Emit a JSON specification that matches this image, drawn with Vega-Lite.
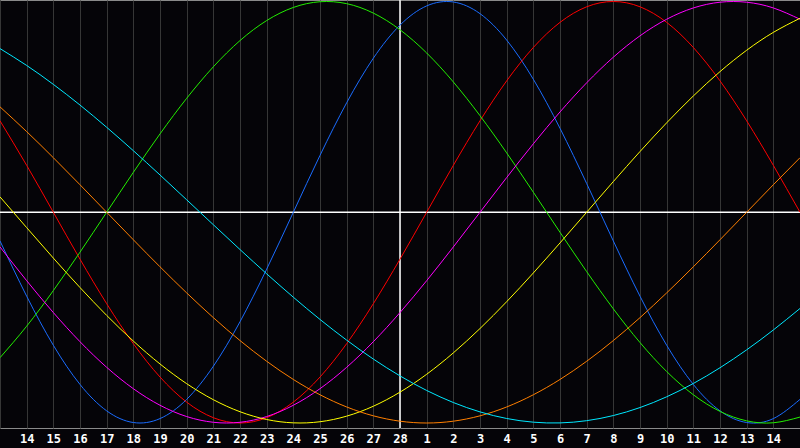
{
  "$schema": "https://vega.github.io/schema/vega-lite/v6.json",
  "width": 800,
  "height": 428,
  "autosize": "none",
  "padding": {"left": 0, "top": 0, "right": 0, "bottom": 20},
  "background": "#050408",
  "config": {
    "view": {"stroke": "#8a8a8a", "fill": "#050408"},
    "axisX": {"labelOverlap": false, "labelBound": false}
  },
  "datasets": {
    "cycles": [
      {"s": "Physical", "d": 0, "v": -0.1362}, {"s": "Physical", "d": 1, "v": -0.3984}, {"s": "Physical", "d": 2, "v": -0.6311}, {"s": "Physical", "d": 3, "v": -0.817}, {"s": "Physical", "d": 4, "v": -0.9423}, {"s": "Physical", "d": 5, "v": -0.9977}, {"s": "Physical", "d": 6, "v": -0.9791}, {"s": "Physical", "d": 7, "v": -0.8879}, {"s": "Physical", "d": 8, "v": -0.7308}, {"s": "Physical", "d": 9, "v": -0.5196}, {"s": "Physical", "d": 10, "v": -0.2698}, {"s": "Physical", "d": 11, "v": 0}, {"s": "Physical", "d": 12, "v": 0.2698}, {"s": "Physical", "d": 13, "v": 0.5196}, {"s": "Physical", "d": 14, "v": 0.7308}, {"s": "Physical", "d": 15, "v": 0.8879}, {"s": "Physical", "d": 16, "v": 0.9791}, {"s": "Physical", "d": 17, "v": 0.9977}, {"s": "Physical", "d": 18, "v": 0.9423}, {"s": "Physical", "d": 19, "v": 0.817}, {"s": "Physical", "d": 20, "v": 0.6311}, {"s": "Physical", "d": 21, "v": 0.3984}, {"s": "Physical", "d": 22, "v": 0.1362}, {"s": "Physical", "d": 23, "v": -0.1362}, {"s": "Physical", "d": 24, "v": -0.3984}, {"s": "Physical", "d": 25, "v": -0.6311}, {"s": "Physical", "d": 26, "v": -0.817}, {"s": "Physical", "d": 27, "v": -0.9423}, {"s": "Physical", "d": 28, "v": -0.9977}, {"s": "Physical", "d": 29, "v": -0.9791}, {"s": "Physical", "d": 30, "v": -0.8879},
      {"s": "Emotional", "d": 0, "v": 0.4339}, {"s": "Emotional", "d": 1, "v": 0.2225}, {"s": "Emotional", "d": 2, "v": 0}, {"s": "Emotional", "d": 3, "v": -0.2225}, {"s": "Emotional", "d": 4, "v": -0.4339}, {"s": "Emotional", "d": 5, "v": -0.6235}, {"s": "Emotional", "d": 6, "v": -0.7818}, {"s": "Emotional", "d": 7, "v": -0.901}, {"s": "Emotional", "d": 8, "v": -0.9749}, {"s": "Emotional", "d": 9, "v": -1}, {"s": "Emotional", "d": 10, "v": -0.9749}, {"s": "Emotional", "d": 11, "v": -0.901}, {"s": "Emotional", "d": 12, "v": -0.7818}, {"s": "Emotional", "d": 13, "v": -0.6235}, {"s": "Emotional", "d": 14, "v": -0.4339}, {"s": "Emotional", "d": 15, "v": -0.2225}, {"s": "Emotional", "d": 16, "v": 0}, {"s": "Emotional", "d": 17, "v": 0.2225}, {"s": "Emotional", "d": 18, "v": 0.4339}, {"s": "Emotional", "d": 19, "v": 0.6235}, {"s": "Emotional", "d": 20, "v": 0.7818}, {"s": "Emotional", "d": 21, "v": 0.901}, {"s": "Emotional", "d": 22, "v": 0.9749}, {"s": "Emotional", "d": 23, "v": 1}, {"s": "Emotional", "d": 24, "v": 0.9749}, {"s": "Emotional", "d": 25, "v": 0.901}, {"s": "Emotional", "d": 26, "v": 0.7818}, {"s": "Emotional", "d": 27, "v": 0.6235}, {"s": "Emotional", "d": 28, "v": 0.4339}, {"s": "Emotional", "d": 29, "v": 0.2225}, {"s": "Emotional", "d": 30, "v": 0},
      {"s": "Intellectual", "d": 0, "v": -0.6901}, {"s": "Intellectual", "d": 1, "v": -0.5406}, {"s": "Intellectual", "d": 2, "v": -0.3717}, {"s": "Intellectual", "d": 3, "v": -0.1893}, {"s": "Intellectual", "d": 4, "v": 0}, {"s": "Intellectual", "d": 5, "v": 0.1893}, {"s": "Intellectual", "d": 6, "v": 0.3717}, {"s": "Intellectual", "d": 7, "v": 0.5406}, {"s": "Intellectual", "d": 8, "v": 0.6901}, {"s": "Intellectual", "d": 9, "v": 0.8146}, {"s": "Intellectual", "d": 10, "v": 0.9096}, {"s": "Intellectual", "d": 11, "v": 0.9718}, {"s": "Intellectual", "d": 12, "v": 0.9989}, {"s": "Intellectual", "d": 13, "v": 0.9898}, {"s": "Intellectual", "d": 14, "v": 0.945}, {"s": "Intellectual", "d": 15, "v": 0.866}, {"s": "Intellectual", "d": 16, "v": 0.7557}, {"s": "Intellectual", "d": 17, "v": 0.6182}, {"s": "Intellectual", "d": 18, "v": 0.4582}, {"s": "Intellectual", "d": 19, "v": 0.2817}, {"s": "Intellectual", "d": 20, "v": 0.0951}, {"s": "Intellectual", "d": 21, "v": -0.0951}, {"s": "Intellectual", "d": 22, "v": -0.2817}, {"s": "Intellectual", "d": 23, "v": -0.4582}, {"s": "Intellectual", "d": 24, "v": -0.6182}, {"s": "Intellectual", "d": 25, "v": -0.7557}, {"s": "Intellectual", "d": 26, "v": -0.866}, {"s": "Intellectual", "d": 27, "v": -0.945}, {"s": "Intellectual", "d": 28, "v": -0.9898}, {"s": "Intellectual", "d": 29, "v": -0.9989}, {"s": "Intellectual", "d": 30, "v": -0.9718},
      {"s": "Intuitive", "d": 0, "v": -0.1646}, {"s": "Intuitive", "d": 1, "v": -0.3247}, {"s": "Intuitive", "d": 2, "v": -0.4759}, {"s": "Intuitive", "d": 3, "v": -0.6142}, {"s": "Intuitive", "d": 4, "v": -0.7357}, {"s": "Intuitive", "d": 5, "v": -0.8372}, {"s": "Intuitive", "d": 6, "v": -0.9158}, {"s": "Intuitive", "d": 7, "v": -0.9694}, {"s": "Intuitive", "d": 8, "v": -0.9966}, {"s": "Intuitive", "d": 9, "v": -0.9966}, {"s": "Intuitive", "d": 10, "v": -0.9694}, {"s": "Intuitive", "d": 11, "v": -0.9158}, {"s": "Intuitive", "d": 12, "v": -0.8372}, {"s": "Intuitive", "d": 13, "v": -0.7357}, {"s": "Intuitive", "d": 14, "v": -0.6142}, {"s": "Intuitive", "d": 15, "v": -0.4759}, {"s": "Intuitive", "d": 16, "v": -0.3247}, {"s": "Intuitive", "d": 17, "v": -0.1646}, {"s": "Intuitive", "d": 18, "v": 0}, {"s": "Intuitive", "d": 19, "v": 0.1646}, {"s": "Intuitive", "d": 20, "v": 0.3247}, {"s": "Intuitive", "d": 21, "v": 0.4759}, {"s": "Intuitive", "d": 22, "v": 0.6142}, {"s": "Intuitive", "d": 23, "v": 0.7357}, {"s": "Intuitive", "d": 24, "v": 0.8372}, {"s": "Intuitive", "d": 25, "v": 0.9158}, {"s": "Intuitive", "d": 26, "v": 0.9694}, {"s": "Intuitive", "d": 27, "v": 0.9966}, {"s": "Intuitive", "d": 28, "v": 0.9966}, {"s": "Intuitive", "d": 29, "v": 0.9694}, {"s": "Intuitive", "d": 30, "v": 0.9158},
      {"s": "Aesthetic", "d": 0, "v": 0.073}, {"s": "Aesthetic", "d": 1, "v": -0.073}, {"s": "Aesthetic", "d": 2, "v": -0.2174}, {"s": "Aesthetic", "d": 3, "v": -0.3572}, {"s": "Aesthetic", "d": 4, "v": -0.4894}, {"s": "Aesthetic", "d": 5, "v": -0.6111}, {"s": "Aesthetic", "d": 6, "v": -0.7199}, {"s": "Aesthetic", "d": 7, "v": -0.8133}, {"s": "Aesthetic", "d": 8, "v": -0.8894}, {"s": "Aesthetic", "d": 9, "v": -0.9465}, {"s": "Aesthetic", "d": 10, "v": -0.9834}, {"s": "Aesthetic", "d": 11, "v": -0.9993}, {"s": "Aesthetic", "d": 12, "v": -0.994}, {"s": "Aesthetic", "d": 13, "v": -0.9675}, {"s": "Aesthetic", "d": 14, "v": -0.9204}, {"s": "Aesthetic", "d": 15, "v": -0.8535}, {"s": "Aesthetic", "d": 16, "v": -0.7687}, {"s": "Aesthetic", "d": 17, "v": -0.6673}, {"s": "Aesthetic", "d": 18, "v": -0.5517}, {"s": "Aesthetic", "d": 19, "v": -0.4244}, {"s": "Aesthetic", "d": 20, "v": -0.2881}, {"s": "Aesthetic", "d": 21, "v": -0.1456}, {"s": "Aesthetic", "d": 22, "v": 0}, {"s": "Aesthetic", "d": 23, "v": 0.1456}, {"s": "Aesthetic", "d": 24, "v": 0.2881}, {"s": "Aesthetic", "d": 25, "v": 0.4244}, {"s": "Aesthetic", "d": 26, "v": 0.5517}, {"s": "Aesthetic", "d": 27, "v": 0.6673}, {"s": "Aesthetic", "d": 28, "v": 0.7687}, {"s": "Aesthetic", "d": 29, "v": 0.8535}, {"s": "Aesthetic", "d": 30, "v": 0.9204},
      {"s": "Awareness", "d": 0, "v": 0.5}, {"s": "Awareness", "d": 1, "v": 0.3827}, {"s": "Awareness", "d": 2, "v": 0.2588}, {"s": "Awareness", "d": 3, "v": 0.1305}, {"s": "Awareness", "d": 4, "v": 0}, {"s": "Awareness", "d": 5, "v": -0.1305}, {"s": "Awareness", "d": 6, "v": -0.2588}, {"s": "Awareness", "d": 7, "v": -0.3827}, {"s": "Awareness", "d": 8, "v": -0.5}, {"s": "Awareness", "d": 9, "v": -0.6088}, {"s": "Awareness", "d": 10, "v": -0.7071}, {"s": "Awareness", "d": 11, "v": -0.7934}, {"s": "Awareness", "d": 12, "v": -0.866}, {"s": "Awareness", "d": 13, "v": -0.9239}, {"s": "Awareness", "d": 14, "v": -0.9659}, {"s": "Awareness", "d": 15, "v": -0.9914}, {"s": "Awareness", "d": 16, "v": -1}, {"s": "Awareness", "d": 17, "v": -0.9914}, {"s": "Awareness", "d": 18, "v": -0.9659}, {"s": "Awareness", "d": 19, "v": -0.9239}, {"s": "Awareness", "d": 20, "v": -0.866}, {"s": "Awareness", "d": 21, "v": -0.7934}, {"s": "Awareness", "d": 22, "v": -0.7071}, {"s": "Awareness", "d": 23, "v": -0.6088}, {"s": "Awareness", "d": 24, "v": -0.5}, {"s": "Awareness", "d": 25, "v": -0.3827}, {"s": "Awareness", "d": 26, "v": -0.2588}, {"s": "Awareness", "d": 27, "v": -0.1305}, {"s": "Awareness", "d": 28, "v": 0}, {"s": "Awareness", "d": 29, "v": 0.1305}, {"s": "Awareness", "d": 30, "v": 0.2588},
      {"s": "Spiritual", "d": 0, "v": 0.7765}, {"s": "Spiritual", "d": 1, "v": 0.6966}, {"s": "Spiritual", "d": 2, "v": 0.6068}, {"s": "Spiritual", "d": 3, "v": 0.5086}, {"s": "Spiritual", "d": 4, "v": 0.4031}, {"s": "Spiritual", "d": 5, "v": 0.2921}, {"s": "Spiritual", "d": 6, "v": 0.1769}, {"s": "Spiritual", "d": 7, "v": 0.0592}, {"s": "Spiritual", "d": 8, "v": -0.0592}, {"s": "Spiritual", "d": 9, "v": -0.1769}, {"s": "Spiritual", "d": 10, "v": -0.2921}, {"s": "Spiritual", "d": 11, "v": -0.4031}, {"s": "Spiritual", "d": 12, "v": -0.5086}, {"s": "Spiritual", "d": 13, "v": -0.6068}, {"s": "Spiritual", "d": 14, "v": -0.6966}, {"s": "Spiritual", "d": 15, "v": -0.7765}, {"s": "Spiritual", "d": 16, "v": -0.8456}, {"s": "Spiritual", "d": 17, "v": -0.9028}, {"s": "Spiritual", "d": 18, "v": -0.9473}, {"s": "Spiritual", "d": 19, "v": -0.9786}, {"s": "Spiritual", "d": 20, "v": -0.9961}, {"s": "Spiritual", "d": 21, "v": -0.9996}, {"s": "Spiritual", "d": 22, "v": -0.989}, {"s": "Spiritual", "d": 23, "v": -0.9646}, {"s": "Spiritual", "d": 24, "v": -0.9267}, {"s": "Spiritual", "d": 25, "v": -0.8757}, {"s": "Spiritual", "d": 26, "v": -0.8125}, {"s": "Spiritual", "d": 27, "v": -0.7378}, {"s": "Spiritual", "d": 28, "v": -0.6528}, {"s": "Spiritual", "d": 29, "v": -0.5586}, {"s": "Spiritual", "d": 30, "v": -0.4566}
    ],
    "today": [{"d": 15, "v": 0}]
  },
  "layer": [
    {
      "data": {"name": "today"},
      "mark": {"type": "rule", "color": "#ffffff", "strokeWidth": 1.5},
      "encoding": {
        "x": {
          "field": "d",
          "type": "quantitative",
          "scale": {"domain": [0, 30], "nice": false, "zero": false},
          "axis": {
            "title": null,
            "values": [0, 1, 2, 3, 4, 5, 6, 7, 8, 9, 10, 11, 12, 13, 14, 15, 16, 17, 18, 19, 20, 21, 22, 23, 24, 25, 26, 27, 28, 29, 30],
            "tickCount": 40,
            "labelExpr": "datum.value == 0 || datum.value == 30 ? '' : '' + (datum.value <= 15 ? datum.value + 13 : datum.value - 15)",
            "grid": true,
            "gridColor": "#363636",
            "gridWidth": 1,
            "domain": false,
            "ticks": false,
            "labelPadding": 5,
            "labelColor": "#ffffff",
            "labelFont": "DejaVu Sans Mono",
            "labelFontWeight": "bold",
            "labelFontSize": 12,
            "labelFlush": false,
            "labelOverlap": false,
            "labelSeparation": 0
          }
        }
      }
    },
    {
      "data": {"name": "today"},
      "mark": {"type": "rule", "color": "#ffffff", "strokeWidth": 1.5},
      "encoding": {
        "y": {
          "field": "v",
          "type": "quantitative",
          "scale": {"domain": [-1.0237, 1.0071], "nice": false, "zero": false},
          "axis": null
        }
      }
    },
    {
      "data": {"name": "cycles"},
      "mark": {"type": "line", "interpolate": "natural", "strokeWidth": 1, "clip": true},
      "encoding": {
        "x": {"field": "d", "type": "quantitative"},
        "y": {"field": "v", "type": "quantitative"},
        "color": {
          "field": "s",
          "type": "nominal",
          "scale": {
            "domain": ["Physical", "Emotional", "Intellectual", "Intuitive", "Aesthetic", "Awareness", "Spiritual"],
            "range": ["#1a6cff", "#ff0000", "#22ee00", "#ff00ff", "#ffff00", "#ff7f00", "#00e8ff"]
          },
          "legend": null
        }
      }
    }
  ]
}
